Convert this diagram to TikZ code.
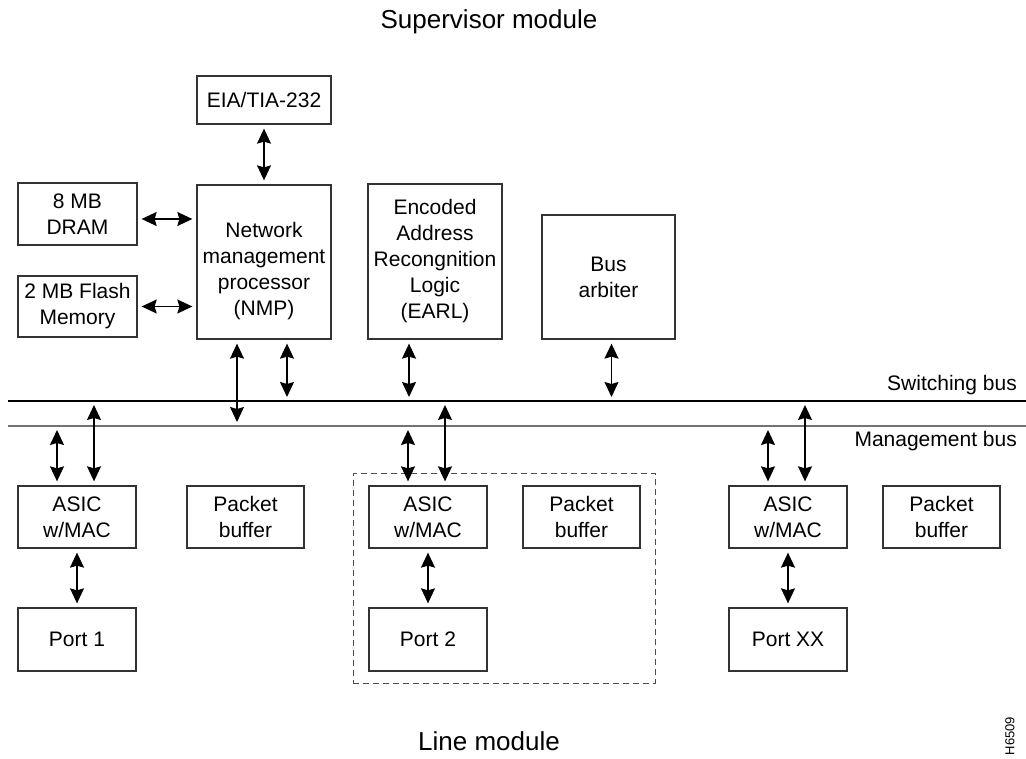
\documentclass[tikz,border=0pt]{standalone}
\usepackage{fontspec}
\setmainfont{Liberation Sans}
\usetikzlibrary{arrows.meta}
\usetikzlibrary{fit}

\begin{document}
\begin{tikzpicture}[x=1pt,y=-1pt,
  font=\fontsize{21}{26}\selectfont,
  box/.style={draw=black!80,line width=1.3pt,align=center,inner sep=0pt},
  dbl/.style={{Stealth[length=15pt,width=14pt,inset=2pt]}-{Stealth[length=15pt,width=14pt,inset=2pt]},line width=1.3pt,shorten <=4pt,shorten >=4pt},
  bus/.style={line width=1.2pt},
  title/.style={font=\fontsize{26}{30}\selectfont}]
\useasboundingbox (0,0) rectangle (1026,759);

% Text Node
\node[anchor=base,title] (sup) at (489,29) {Supervisor module};
% Text Node
\node[title] (line) at (489,741) {Line module};

%Shape: Rectangle [supervisor blocks]
\node[box,minimum width=134pt,minimum height=48pt] (eia) at (264,100) {EIA/TIA-232};
\node[box,minimum width=134pt,minimum height=154pt] (nmp) at (264,262) {};
\node[align=center] (nmptxt) at ([yshift=-9pt]nmp.center) {Network\\management\\processor\\(NMP)};
\node[box,minimum width=119pt,minimum height=62pt] (dram) at (77.5,214) {8 MB\\DRAM};
\node[box,minimum width=119pt,minimum height=61pt] (flash) at (77.5,306.5) {2 MB Flash\\Memory};
\node[box,minimum width=134pt,minimum height=155pt] (earl) at (435,261.5) {Encoded\\Address\\Recongnition\\Logic\\(EARL)};
\node[box,minimum width=133pt,minimum height=124pt] (arb) at (608.5,277) {Bus\\arbiter};

%Straight Lines [buses]
\coordinate (swL) at (8,401);
\coordinate (swR) at (1026,401);
\coordinate (mgL) at (8,426);
\coordinate (mgR) at (1026,426);
\draw[bus] (swL) -- (swR);
\draw[bus,draw=black!55,line width=1.8pt] (mgL) -- (mgR);
% Text Node
\node[anchor=east,inner sep=0pt] (swlab) at (1017,385) {Switching bus};
% Text Node
\node[anchor=east,inner sep=0pt] (mglab) at (1017,441) {Management bus};

%Shape: Rectangle [line module blocks]
\node[box,minimum width=118pt,minimum height=62pt] (asic1) at (77,517) {ASIC\\w/MAC};
\node[box,minimum width=117pt,minimum height=62pt] (buf1) at (245.5,517) {Packet\\buffer};
\node[box,minimum width=118pt,minimum height=63pt] (port1) at (77,639.5) {Port 1};
\node[box,minimum width=118pt,minimum height=62pt] (asic2) at (428,517) {ASIC\\w/MAC};
\node[box,minimum width=117pt,minimum height=62pt] (buf2) at (581.5,517) {Packet\\buffer};
\node[box,minimum width=118pt,minimum height=63pt] (port2) at (428,639.5) {Port 2};
\node[box,minimum width=118pt,minimum height=62pt] (asic3) at (788,517) {ASIC\\w/MAC};
\node[box,minimum width=117pt,minimum height=62pt] (buf3) at (941.5,517) {Packet\\buffer};
\node[box,minimum width=118pt,minimum height=63pt] (port3) at (788,639.5) {Port XX};

%Shape: Rectangle [dashed frame]
\node[draw=black!70,line width=1.2pt,dash pattern=on 6pt off 4pt,fit=(asic2)(buf2)(port2),inner xsep=15pt,inner ysep=11.5pt] (frame) {};

%Straight Lines [supervisor links]
\draw[dbl] (eia) -- (nmp);
\draw[dbl] ([yshift=-5pt]dram.east) -- ([yshift=-5pt]dram.east -| nmp.west);
\draw[dbl] (flash.east) -- (flash.east -| nmp.west);
\draw[dbl] ([xshift=-27pt]nmp.south) -- ([xshift=-27pt]nmp.south |- mgL);
\draw[dbl] ([xshift=23pt]nmp.south) -- ([xshift=23pt]nmp.south |- swL);
\draw[dbl] ([xshift=-26pt]earl.south) -- ([xshift=-26pt]earl.south |- swL);
\draw[dbl] ([xshift=3pt]arb.south) -- ([xshift=3pt]arb.south |- swL);

%Straight Lines [line module links]
\foreach \m in {1,2,3}{
  \draw[dbl] ([xshift=-20pt]asic\m.north) -- ([xshift=-20pt]asic\m.north |- mgL);
  \draw[dbl] ([xshift=17pt]asic\m.north) -- ([xshift=17pt]asic\m.north |- swL);
  \draw[dbl] (asic\m) -- (port\m);
}

% Text Node
\node[rotate=90,font=\fontsize{13}{15}\selectfont] (fig) at (1010,736) {H6509};
\end{tikzpicture}
\end{document}
